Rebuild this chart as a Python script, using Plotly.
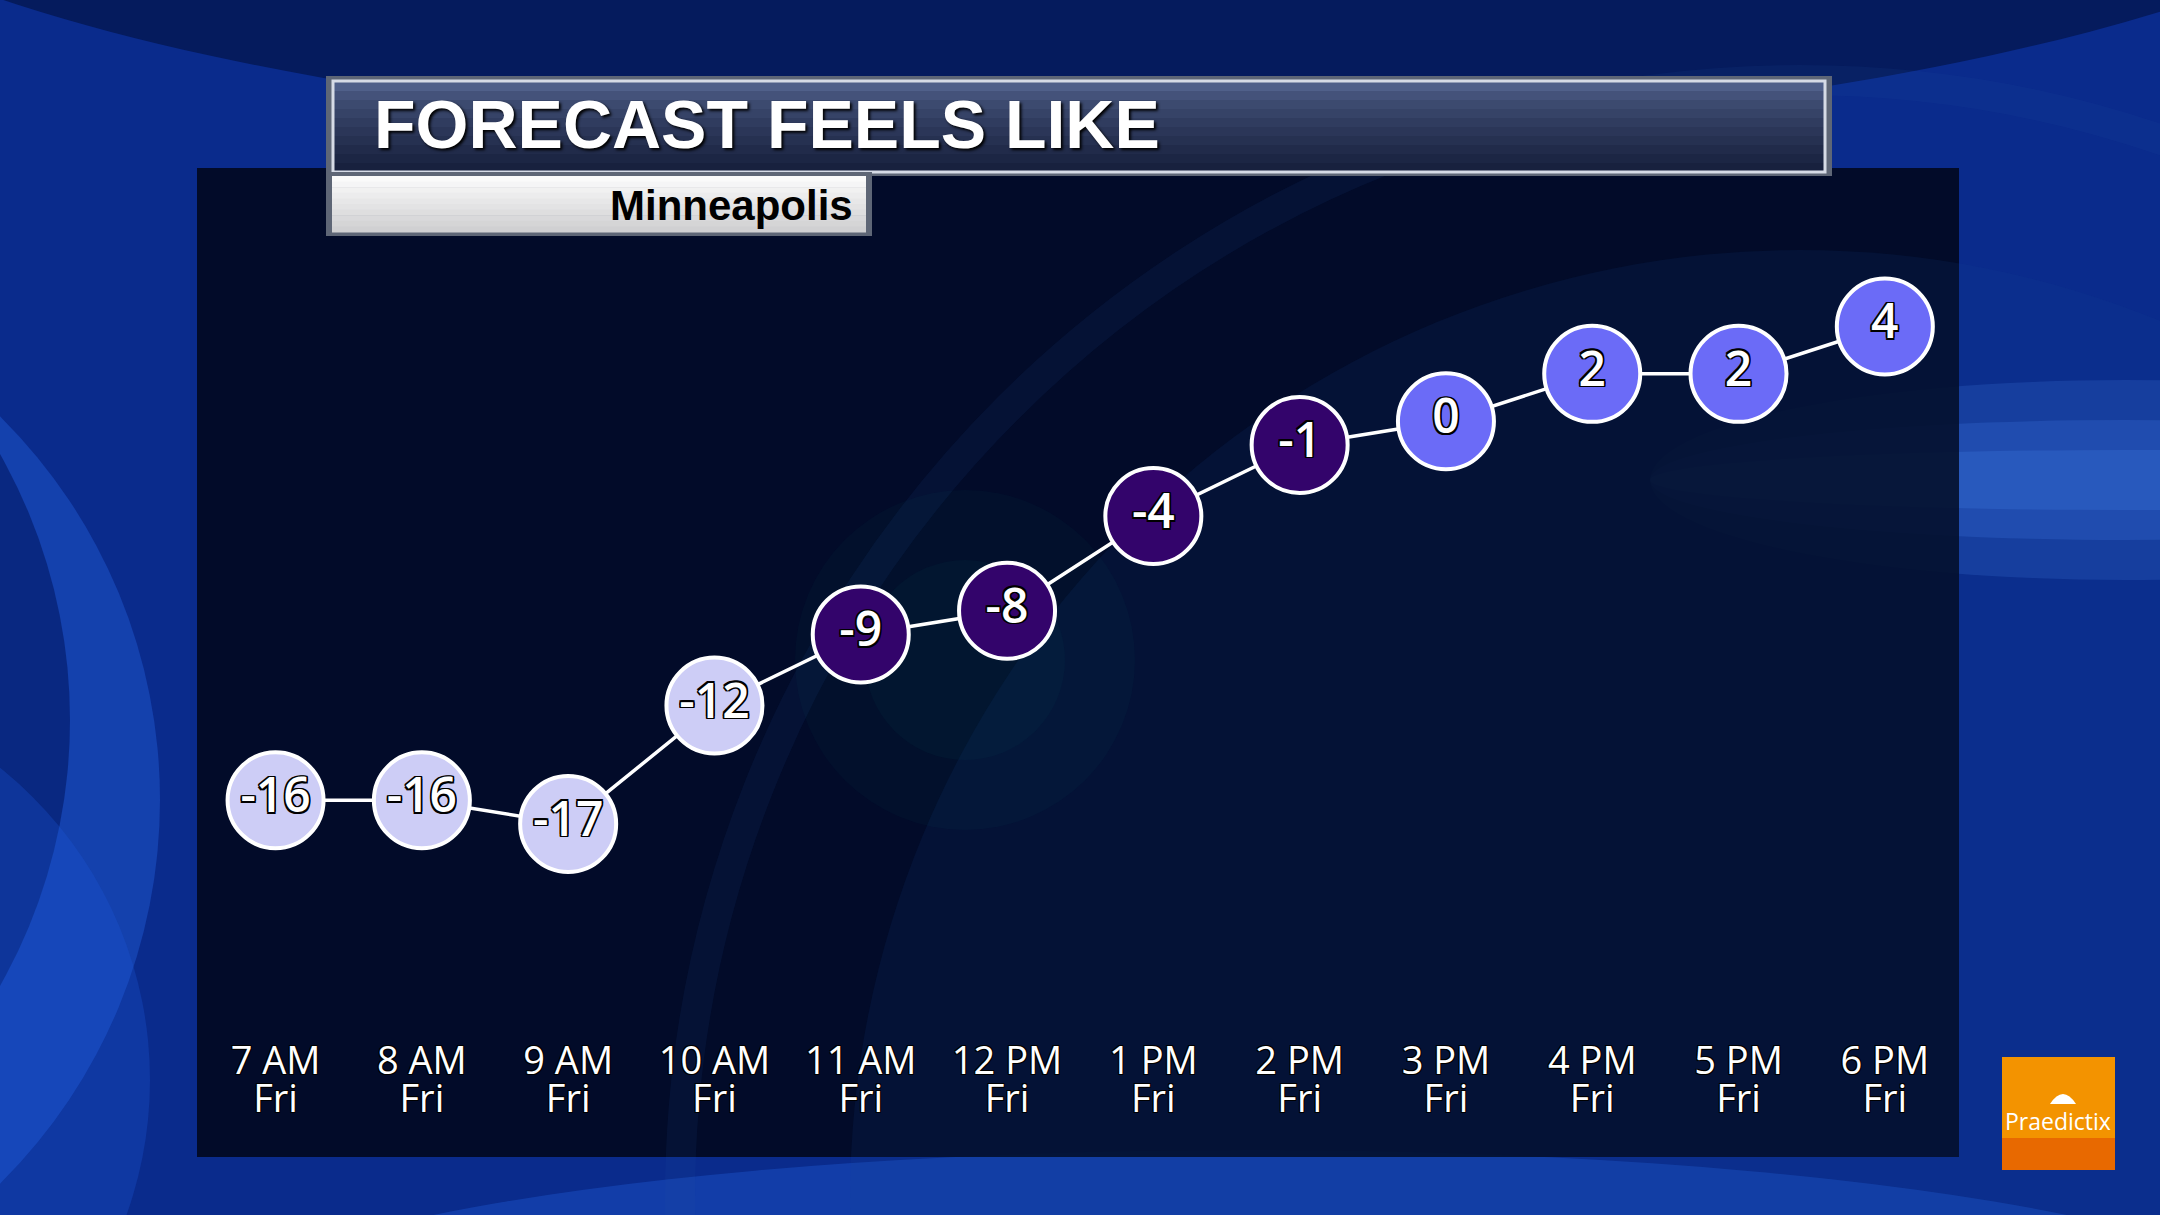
"""
plot.py - Forecast "feels like" temperatures, Minneapolis, broadcast style.
"""

import plotly.graph_objects as go

W, H = 2160, 1215

# Data
hours = ["7 AM", "8 AM", "9 AM", "10 AM", "11 AM", "12 PM",
         "1 PM", "2 PM", "3 PM", "4 PM", "5 PM", "6 PM"]
days = ["Fri"] * 12
feels_like = [-16, -16, -17, -12, -9, -8, -4, -1, 0, 2, 2, 4]
title = "FORECAST FEELS LIKE"
city = "Minneapolis"
brand = "Praedictix"

COLOR_COLD = "#CDCDF6"
COLOR_CHILL = "#33046B"
COLOR_MILD = "#6B6BF7"
OUTLINE = ("1.5px 1.5px 0 #000, -1.5px -1.5px 0 #000, 1.5px -1.5px 0 #000, "
           "-1.5px 1.5px 0 #000, 0 1.5px 0 #000, 0 -1.5px 0 #000, "
           "1.5px 0 0 #000, -1.5px 0 0 #000")
THIN_OUTLINE = ("1px 1px 0 #000, -1px -1px 0 #000, 1px -1px 0 #000, "
                "-1px 1px 0 #000")


def bubble_color(v):
    """Marker fill by temperature band."""
    if v <= -10:
        return COLOR_COLD
    if v < 0:
        return COLOR_CHILL
    return COLOR_MILD


def px(x, y):
    """Pixel position -> paper coordinates."""
    return x / W, 1 - y / H


def rect(x0, y0, x1, y1, fill, line=None, lw=0, kind="rect"):
    a, b = px(x0, y1)
    c, d = px(x1, y0)
    return dict(type=kind, xref="paper", yref="paper", x0=a, y0=b, x1=c, y1=d,
                fillcolor=fill, line=dict(color=line or "rgba(0,0,0,0)", width=lw),
                layer="below")


def circle(cx, cy, r, fill, line=None, lw=0):
    return rect(cx - r, cy - r, cx + r, cy + r, fill, line, lw, kind="circle")


def lerp(c0, c1, t):
    return "rgb(%d,%d,%d)" % tuple(round(a + (b - a) * t) for a, b in zip(c0, c1))


idx = list(range(len(hours)))

fig = go.Figure()

fig.add_trace(go.Scatter(
    x=idx, y=feels_like,
    mode="lines+markers+text",
    line=dict(color="#FFFFFF", width=3.5),
    marker=dict(size=96, color=[bubble_color(v) for v in feels_like],
                line=dict(color="#FFFFFF", width=4)),
    text=[str(v) for v in feels_like],
    textposition="middle center",
    textfont=dict(family="Open Sans", size=48, weight=600, color="#FFFFFF",
                  shadow=OUTLINE),
    hoverinfo="skip", showlegend=False,
))
# carrier for the second (day) tick row
fig.add_trace(go.Scatter(x=idx, y=feels_like, xaxis="x2", mode="none",
                         hoverinfo="skip", showlegend=False))

shapes = []
# background swirls
shapes.append(rect(-300, -600, 2500, 140, "rgba(2,16,62,0.6)", kind="circle"))
shapes.append(circle(-380, 800, 540, "rgba(40,105,235,0.35)"))
shapes.append(circle(-470, 720, 540, "rgba(5,32,115,0.75)"))
shapes.append(circle(-250, 1080, 400, "rgba(30,90,220,0.28)"))
for a, (y0, y1) in zip([0.18, 0.2, 0.22], [(380, 580), (420, 540), (450, 510)]):
    shapes.append(rect(1650, y0, 2600, y1, f"rgba(80,145,255,{a})", kind="circle"))
shapes.append(rect(200, 1150, 2300, 1500, "rgba(30,90,210,0.4)", kind="circle"))
# dark panel
shapes.append(rect(197, 168, 1959, 1157, "rgba(1,8,30,0.9)"))
shapes.append(circle(1800, 1200, 950, "rgba(25,70,150,0.12)"))
shapes.append(circle(1800, 1200, 1120, "rgba(0,0,0,0)", "rgba(40,90,170,0.10)", 30))
shapes.append(circle(965, 660, 170, "rgba(20,120,120,0.05)"))
shapes.append(circle(965, 660, 100, "rgba(20,120,120,0.06)"))

# title bar
shapes.append(rect(326, 76, 1832, 176, "#5E6676"))
n = 10
for i in range(n):
    y0 = 82 + i * 90 / n
    shapes.append(rect(334, y0, 1824, y0 + 90 / n + 0.5,
                       lerp((80, 96, 138), (24, 33, 62), (i / (n - 1)) ** 0.7)))
shapes.append(rect(333, 81, 1825, 172, "rgba(0,0,0,0)", "#D6DBE6", 3))
# city box
shapes.append(rect(326, 172, 872, 236, "#5E6676"))
for i in range(n):
    y0 = 176 + i * 56 / n
    shapes.append(rect(332, y0, 866, y0 + 56 / n + 0.5,
                       lerp((250, 250, 250), (208, 208, 210), i / (n - 1))))
# logo
shapes.append(rect(2002, 1057, 2115, 1140, "#F39300"))
shapes.append(rect(2002, 1138, 2115, 1170, "#E86900"))
ux0, uy0 = px(2050, 1104)
uxm, uym = px(2063, 1084)
ux1, uy1 = px(2076, 1104)
shapes.append(dict(type="path", xref="paper", yref="paper",
                   path=f"M {ux0},{uy0} Q {uxm},{uym} {ux1},{uy1} Z",
                   fillcolor="#FFFFFF", line=dict(width=0), layer="below"))

annotations = []
tx, ty = px(372, 124)
annotations.append(dict(
    text=f"<b>{title}</b>", x=tx, y=ty, xref="paper", yref="paper",
    xanchor="left", yanchor="middle", showarrow=False,
    font=dict(family="Liberation Sans, Arial", size=68, color="#FFFFFF",
              shadow="2px 2px 3px #000"),
))
cx, cy = px(855, 205)
annotations.append(dict(
    text=f"<b>{city}</b>", x=cx, y=cy, xref="paper", yref="paper",
    xanchor="right", yanchor="middle", showarrow=False,
    font=dict(family="Liberation Sans, Arial", size=42, color="#000000"),
))
bx, by = px(2058, 1121)
annotations.append(dict(
    text=brand, x=bx, y=by, xref="paper", yref="paper",
    xanchor="center", yanchor="middle", showarrow=False,
    font=dict(family="Open Sans", size=23, color="#FFFFFF"),
))

tick_font = dict(family="Open Sans", size=38, color="#FFFFFF", shadow=THIN_OUTLINE)
x_range = [-0.537, 11.507]

fig.update_layout(
    width=W, height=H,
    margin=dict(l=0, r=0, t=0, b=0),
    paper_bgcolor="#0A2B8C",
    plot_bgcolor="rgba(0,0,0,0)",
    shapes=shapes,
    annotations=annotations,
    xaxis=dict(domain=[197 / W, 1959 / W], range=x_range,
               tickmode="array", tickvals=idx, ticktext=hours,
               tickfont=tick_font, showgrid=False, zeroline=False,
               showline=False, ticks="", fixedrange=True),
    xaxis2=dict(overlaying="x", matches="x", anchor="y", side="bottom",
                tickmode="array", tickvals=idx, ticktext=days,
                tickfont=tick_font, ticklabelstandoff=38,
                showgrid=False, zeroline=False, showline=False, ticks=""),
    yaxis=dict(domain=[1 - 1035 / H, 1 - 200 / H], range=[-25.91, 9.34],
               showticklabels=False, showgrid=False, zeroline=False,
               fixedrange=True),
)

fig.write_html("out.html", config={"displayModeBar": False},
               post_script="document.body.style.margin='0';"
                           "document.body.style.overflow='hidden';")
